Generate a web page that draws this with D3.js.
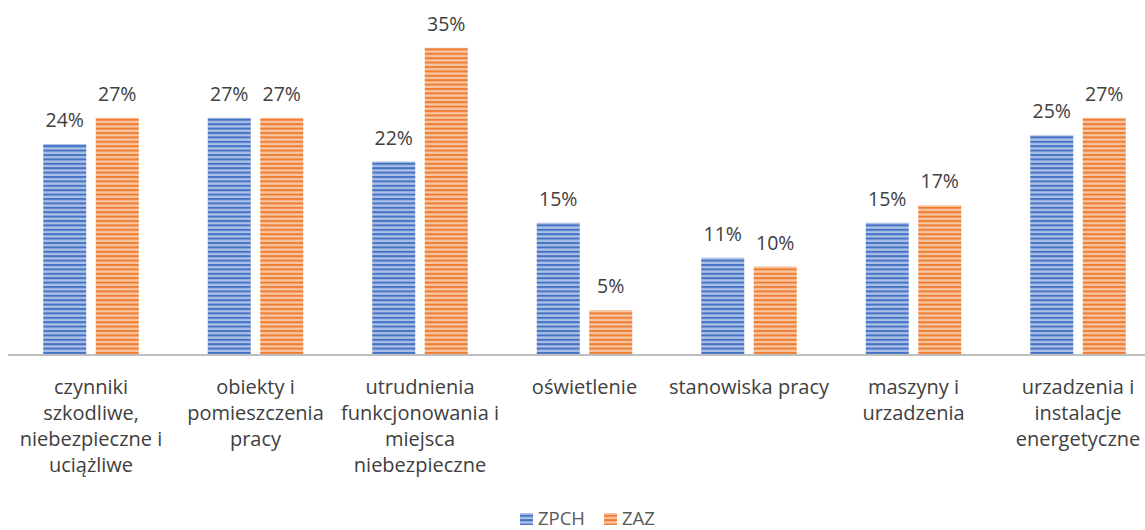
<!DOCTYPE html>
<html><head><meta charset="utf-8">
<script src="https://cdn.jsdelivr.net/npm/d3@7"></script>
<style>body{margin:0;background:#fff}svg{display:block;font-family:"Open Sans",sans-serif}</style>
</head><body>
<svg id="chart" width="1145" height="530"></svg>
<script>
const categories = ["czynniki szkodliwe, niebezpieczne i uciążliwe","obiekty i pomieszczenia pracy","utrudnienia funkcjonowania i miejsca niebezpieczne","oświetlenie","stanowiska pracy","maszyny i urzadzenia","urzadzenia i instalacje energetyczne"];
const categoryLines = [
  ["czynniki","szkodliwe,","niebezpieczne i","uciążliwe"],
  ["obiekty i","pomieszczenia","pracy"],
  ["utrudnienia","funkcjonowania i","miejsca","niebezpieczne"],
  ["oświetlenie"],
  ["stanowiska pracy"],
  ["maszyny i","urzadzenia"],
  ["urzadzenia i","instalacje","energetyczne"]
];
const seriesNames = ["ZPCH","ZAZ"];
const zpch = [24,27,22,15,11,15,25];
const zaz  = [27,27,35,5,10,17,27];
const seriesColors = ["#4472C4","#ED7D31"];

const svg = d3.select("#chart");
const defs = svg.append("defs");
seriesColors.forEach((c,i)=>{
  const p = defs.append("pattern").attr("id","pat"+i).attr("patternUnits","userSpaceOnUse")
    .attr("width",8).attr("height",4.4);
  p.append("rect").attr("width",8).attr("height",4.4).attr("fill",d3.interpolateRgb(c,"#fff")(0.55));
  p.append("rect").attr("width",8).attr("height",2).attr("fill",c);
});

const x0 = d3.scaleBand().domain(categories).range([8.75, 8.75+7*164.5]).paddingInner(0).paddingOuter(0);
const bw = 43, gap = 9.5;
const y = d3.scaleLinear().domain([0,40]).range([354, 4]);

const data = categories.map((c,i)=>({c, vals:[zpch[i],zaz[i]]}));
const g = svg.append("g");
data.forEach((d,ci)=>{
  const cx = x0(d.c) + x0.bandwidth()/2;
  d.vals.forEach((v,si)=>{
    const bx = si===0 ? cx - gap/2 - bw : cx + gap/2;
    g.append("rect").attr("x",bx).attr("y",y(v)).attr("width",bw).attr("height",y(0)-y(v))
      .attr("fill","url(#pat"+si+")");
    g.append("text").attr("x",bx+bw/2).attr("y",y(v)-17).attr("text-anchor","middle")
      .attr("font-size",19.5).attr("fill","#404040").text(v+"%");
  });
  const t = g.append("text").attr("text-anchor","middle").attr("font-size",20).attr("fill","#404040");
  categoryLines[ci].forEach((ln,li)=>{
    t.append("tspan").attr("x",cx).attr("y",394+li*26).text(ln);
  });
});

svg.append("line").attr("x1",8).attr("x2",1145).attr("y1",355).attr("y2",355)
  .attr("stroke","#bfbfbf").attr("stroke-width",2);

const leg = svg.append("g");
const legX = [520,604];
seriesNames.forEach((n,i)=>{
  leg.append("rect").attr("x",legX[i]).attr("y",513).attr("width",13).attr("height",12).attr("fill","url(#pat"+i+")");
  leg.append("text").attr("x",legX[i]+18).attr("y",525).attr("font-size",18.5).attr("fill","#595959").text(n);
});
</script>
</body></html>
